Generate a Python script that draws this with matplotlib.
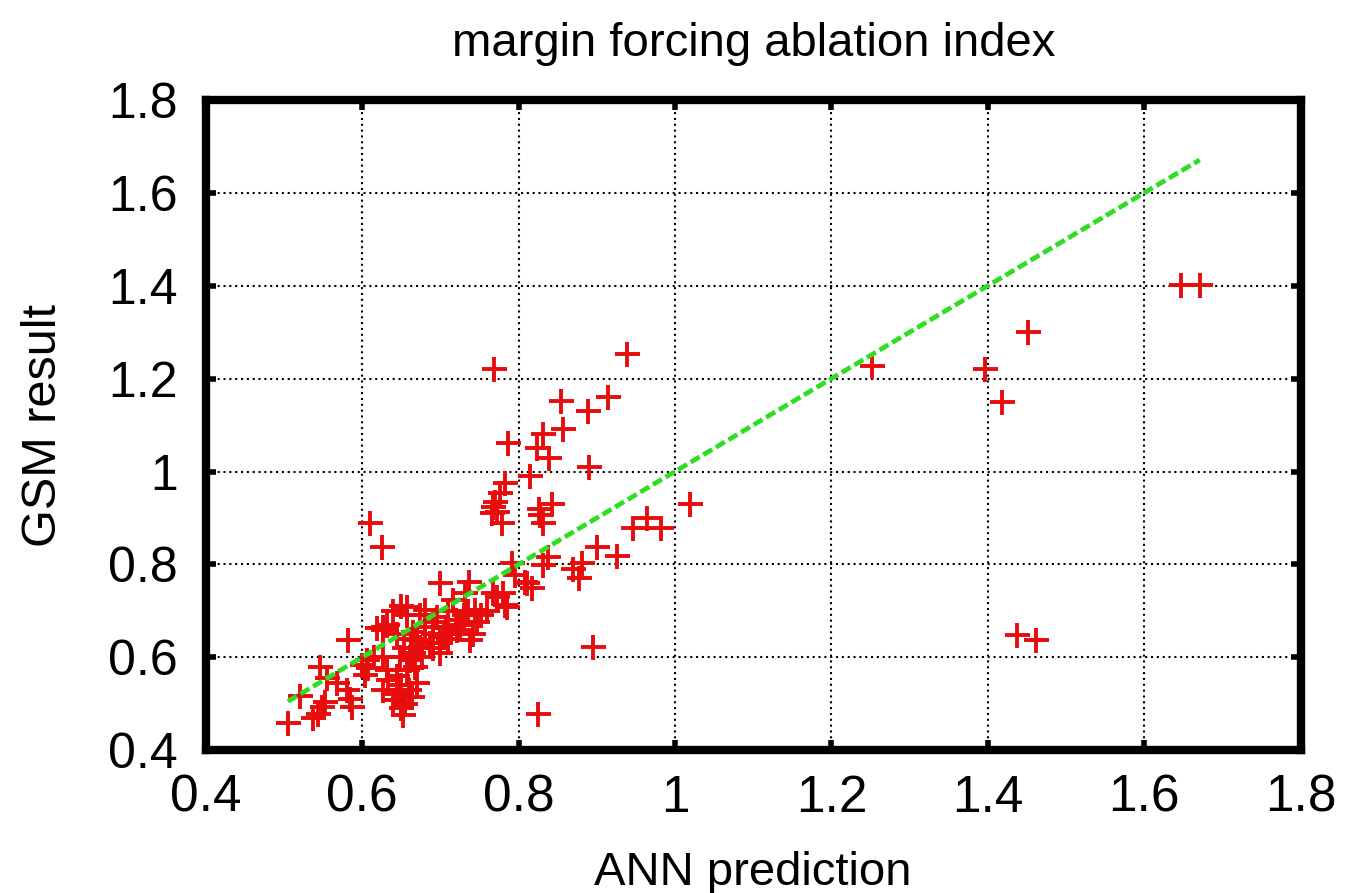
import numpy as np
import matplotlib
matplotlib.use("Agg")
import matplotlib.pyplot as plt

# ANN prediction vs GSM result for the margin forcing ablation index
ann_pred = [
    0.505, 0.520, 0.537, 0.543, 0.548, 0.552, 0.546, 0.555, 0.568, 0.580,
    0.584, 0.587, 0.582, 0.600, 0.606, 0.607, 0.604, 0.615, 0.619, 0.627,
    0.627, 0.610, 0.625, 0.632, 0.627, 0.632, 0.633, 0.627, 0.640, 0.645,
    0.649, 0.652, 0.664, 0.670, 0.657, 0.661, 0.665, 0.674, 0.687, 0.699,
    0.708, 0.721, 0.738, 0.747, 0.744, 0.657, 0.657, 0.674, 0.680, 0.716,
    0.731, 0.699, 0.737, 0.767, 0.772, 0.783, 0.785, 0.811, 0.817, 0.780,
    0.791, 0.795, 0.808, 0.665, 0.670, 0.696, 0.690, 0.680, 0.645, 0.650,
    0.655, 0.660, 0.648, 0.653, 0.662, 0.690, 0.700, 0.710, 0.720, 0.730,
    0.735, 0.710, 0.700, 0.690, 0.676, 0.668, 0.742, 0.752, 0.760, 0.725,
    0.705, 0.640, 0.650, 0.645,
    0.769, 0.939, 0.854, 0.889, 0.914, 0.857, 0.831, 0.786, 0.824, 0.839,
    0.890, 0.815, 0.783, 0.776, 0.770, 0.767, 0.772, 0.779, 0.766, 0.843,
    0.826, 0.831, 0.827, 1.019, 0.946, 0.964, 0.982, 0.900, 0.926, 0.838,
    0.831, 0.870, 0.881, 0.877, 0.895, 0.825,
    1.252, 1.397, 1.418, 1.452, 1.647, 1.671, 1.437, 1.462,
]
gsm_result = [
    0.458, 0.516, 0.470, 0.478, 0.493, 0.503, 0.579, 0.555, 0.544, 0.529,
    0.510, 0.492, 0.637, 0.583, 0.594, 0.577, 0.562, 0.600, 0.663, 0.665,
    0.600, 0.890, 0.838, 0.669, 0.658, 0.572, 0.551, 0.529, 0.508, 0.520,
    0.490, 0.475, 0.514, 0.544, 0.572, 0.594, 0.609, 0.622, 0.630, 0.643,
    0.665, 0.658, 0.637, 0.676, 0.702, 0.708, 0.690, 0.691, 0.702, 0.723,
    0.738, 0.760, 0.762, 0.738, 0.730, 0.712, 0.708, 0.760, 0.749, 0.738,
    0.802, 0.777, 0.762, 0.654, 0.637, 0.686, 0.676, 0.665, 0.560, 0.540,
    0.500, 0.530, 0.600, 0.620, 0.640, 0.650, 0.630, 0.640, 0.680, 0.690,
    0.700, 0.700, 0.610, 0.620, 0.600, 0.580, 0.650, 0.690, 0.700, 0.670,
    0.650, 0.700, 0.710, 0.650,
    1.221, 1.253, 1.152, 1.130, 1.160, 1.091, 1.080, 1.061, 1.050, 1.029,
    1.010, 0.990, 0.975, 0.954, 0.934, 0.924, 0.913, 0.889, 0.910, 0.930,
    0.919, 0.889, 0.906, 0.930, 0.878, 0.900, 0.878, 0.838, 0.818, 0.816,
    0.798, 0.790, 0.802, 0.770, 0.622, 0.478,
    1.228, 1.220, 1.149, 1.300, 1.401, 1.401, 0.648, 0.638,
]

ticks = [0.4, 0.6, 0.8, 1.0, 1.2, 1.4, 1.6, 1.8]
tick_labels = ["0.4", "0.6", "0.8", "1", "1.2", "1.4", "1.6", "1.8"]

plt.rcParams["font.family"] = ["Liberation Sans", "DejaVu Sans"]

fig = plt.figure(figsize=(13.45, 8.93), dpi=100)
ax = fig.add_axes([0.153, 0.160, 0.814, 0.728])

ax.plot(ann_pred, gsm_result, linestyle="none", marker="+", markersize=18,
        markeredgewidth=2.8, color="#e80c0c", zorder=3)

# 1:1 reference line across the range of predictions
x_line = np.array([min(ann_pred), max(ann_pred)])
ax.plot(x_line, x_line, linestyle=(0, (2.2, 0.9)), linewidth=3.4,
        color="#2ede22", zorder=4)

ax.set_xlim(0.4, 1.8)
ax.set_ylim(0.4, 1.8)
ax.set_xticks(ticks)
ax.set_yticks(ticks)
ax.set_xticklabels(tick_labels, fontsize=37)
ax.set_yticklabels(tick_labels, fontsize=36)

ax.tick_params(direction="in", length=7, width=4, color="black",
               top=True, right=True)
ax.tick_params(axis="x", pad=17)
ax.tick_params(axis="y", pad=20)

for side in ax.spines.values():
    side.set_linewidth(6)
    side.set_color("black")

ax.set_axisbelow(True)
ax.grid(True, color="black", linestyle=(0, (1, 1.8)), linewidth=1.5)

ax.set_title("margin forcing ablation index", fontsize=34, pad=32)
ax.set_xlabel("ANN prediction", fontsize=34)
ax.xaxis.set_label_coords(0.5, -0.155)
ax.set_ylabel("GSM result", fontsize=35)
ax.yaxis.set_label_coords(-0.128, 0.5)

fig.savefig("out.png", dpi=100, facecolor="white")
